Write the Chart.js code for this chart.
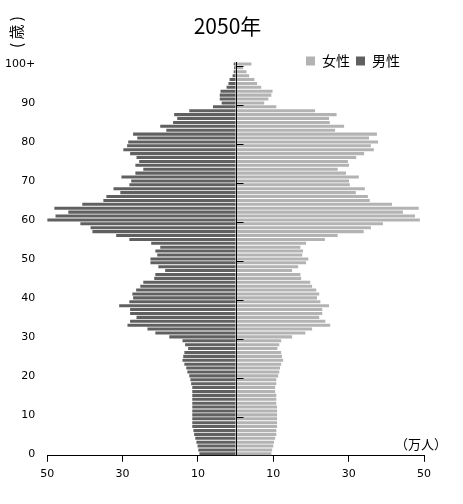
<!DOCTYPE html>
<html>
<head>
<meta charset="UTF-8">
<style>
    body { margin: 0; background: #fff; }
</style>
</head>
<body>
<canvas id="myChart" width="463" height="504"></canvas>

<script src="https://cdn.jsdelivr.net/npm/chart.js"></script>

<script>
    const title = '2050年';
    const ages = Array.from({length: 100}, (_, i) => String(i)).concat(['100+']);
    const xTicks = [-50, -30, -10, 10, 30, 50];
    const yTitle = '( 歳 )';
    const xTitle = '（万人）';

    // 万人, 0歳 → 100歳以上
    const female = [
        9.5, 9.7, 10.0, 10.2, 10.5, 10.8, 10.8, 11.0, 11.0, 11.0,
        11.0, 11.0, 11.0, 10.8, 10.8, 10.8, 10.5, 10.5, 10.8, 10.8,
        11.3, 11.6, 11.8, 12.1, 12.6, 12.3, 12.1, 11.1, 11.6, 12.1,
        15.0, 18.5, 20.3, 25.1, 23.8, 22.2, 23.0, 23.0, 24.8, 22.5,
        21.6, 22.2, 21.4, 20.3, 19.8, 17.4, 17.2, 15.0, 16.6, 18.7,
        19.3, 17.7, 17.9, 17.2, 18.7, 23.7, 27.1, 34.0, 35.9, 39.1,
        48.9, 47.6, 44.4, 48.6, 41.5, 35.6, 35.1, 31.9, 34.3, 30.3,
        30.1, 32.7, 29.3, 27.1, 30.1, 29.8, 32.0, 34.1, 36.7, 35.9,
        37.8, 35.4, 37.5, 26.4, 28.8, 25.0, 24.8, 26.8, 21.1, 10.8,
        7.6, 8.7, 9.5, 9.8, 6.8, 5.7, 5.0, 3.6, 2.9, 2.0,
        4.2
    ];
    const male = [
        9.6, 9.9, 10.1, 10.4, 10.7, 11.0, 11.2, 11.5, 11.5, 11.5,
        11.5, 11.5, 11.5, 11.5, 11.5, 11.5, 11.5, 11.5, 11.8, 12.0,
        12.3, 12.8, 13.1, 13.6, 14.1, 13.9, 13.6, 12.6, 13.4, 14.1,
        17.6, 21.3, 23.4, 28.7, 28.0, 26.3, 28.0, 28.0, 30.9, 28.2,
        27.2, 27.4, 26.4, 25.3, 24.5, 21.6, 21.3, 18.7, 20.5, 22.6,
        22.6, 20.8, 21.3, 20.0, 22.4, 28.2, 31.7, 38.0, 38.5, 41.2,
        50.0, 47.8, 44.4, 48.1, 40.7, 35.1, 34.3, 30.6, 32.4, 28.2,
        27.7, 30.3, 26.6, 24.5, 26.6, 25.6, 26.3, 28.0, 29.8, 28.8,
        28.5, 26.1, 27.2, 18.4, 20.0, 16.6, 15.5, 16.3, 12.3, 6.0,
        3.7, 4.2, 4.2, 4.0, 2.4, 1.9, 1.6, 0.8, 0.5, 0.4,
        0.5
    ];

    const jpFont = 'Noto Sans CJK JP';
    const tickFont = {family: 'DejaVu Sans', size: 11};

    // 中央の軸線・目盛り、単位の文字、凡例とタイトルの位置
    const extras = {
        id: 'extras',
        afterLayout(chart) {
            const lg = chart.legend;
            lg.top += 16; lg.bottom += 16;
            lg.left -= 18; lg.right -= 18;
            const tt = chart.titleBlock;
            tt.top += 2; tt.bottom += 2;
            tt.left += 19; tt.right += 19;
        },
        afterDatasetsDraw(chart) {
            const {ctx, chartArea, scales: {x, y}} = chart;
            const x0 = Math.round(x.getPixelForValue(0)) + 0.5;
            const step = Math.abs(y.getPixelForValue(1) - y.getPixelForValue(0));
            ctx.save();
            ctx.strokeStyle = '#000';
            ctx.lineWidth = 1;
            ctx.beginPath();
            ctx.moveTo(x0, chartArea.top);
            ctx.lineTo(x0, chartArea.bottom);
            for (let i = 10; i < ages.length; i += 10) {
                const yy = Math.round(y.getPixelForValue(i) + step * 0.45) + 0.5;
                ctx.moveTo(x0, yy);
                ctx.lineTo(x0 + 7, yy);
            }
            ctx.stroke();
            ctx.restore();
        },
        afterDraw(chart) {
            const {ctx, chartArea} = chart;
            ctx.save();
            ctx.fillStyle = '#000';
            ctx.font = `13px "${jpFont}"`;
            ctx.textAlign = 'right';
            ctx.textBaseline = 'middle';
            ctx.fillText(xTitle, chartArea.right + 23, chartArea.bottom - 12);
            ctx.translate(chartArea.left - 31, chartArea.top - 30);
            ctx.rotate(-Math.PI / 2);
            ctx.textAlign = 'center';
            ctx.font = `15px "${jpFont}"`;
            ctx.fillText(yTitle, 0, 0);
            ctx.restore();
        }
    };

    new Chart(document.getElementById('myChart'), {
        type: 'bar',
        data: {
            labels: ages,
            datasets: [{
                label: '女性',
                data: female,
                backgroundColor: '#b3b3b3',
                borderWidth: 0,
                barPercentage: 0.78,
                categoryPercentage: 1
            }, {
                label: '男性',
                data: male.map(v => -v),
                backgroundColor: '#606060',
                borderWidth: 0,
                barPercentage: 0.78,
                categoryPercentage: 1
            }]
        },
        options: {
            indexAxis: 'y',
            responsive: false,
            animation: false,
            layout: {
                padding: {left: -7, right: 39, top: 0, bottom: 17}
            },
            plugins: {
                title: {
                    display: true,
                    text: title,
                    color: '#000',
                    font: {family: jpFont, size: 21, weight: 'normal', lineHeight: 1},
                    padding: {top: 13.5, bottom: -2.5}
                },
                legend: {
                    position: 'top',
                    align: 'end',
                    labels: {
                        color: '#000',
                        font: {family: jpFont, size: 14},
                        boxWidth: 9,
                        boxHeight: 9,
                        padding: 6
                    }
                },
                tooltip: {enabled: false}
            },
            scales: {
                x: {
                    stacked: true,
                    min: -50,
                    max: 50,
                    afterBuildTicks: s => { s.ticks = xTicks.map(v => ({value: v})); },
                    ticks: {
                        callback: v => Math.abs(v),
                        color: '#000',
                        font: tickFont,
                        padding: 6,
                        maxRotation: 0
                    },
                    grid: {drawOnChartArea: false, drawTicks: true, tickLength: 6, color: '#000'},
                    border: {color: '#000'}
                },
                y: {
                    stacked: true,
                    reverse: true,
                    grid: {display: false, drawTicks: false},
                    border: {display: false},
                    ticks: {
                        autoSkip: false,
                        padding: 12,
                        color: '#000',
                        font: tickFont,
                        callback: (v, i) => i % 10 === 0 ? ages[i] : ''
                    }
                }
            }
        },
        plugins: [extras]
    });
</script>
</body>
</html>
